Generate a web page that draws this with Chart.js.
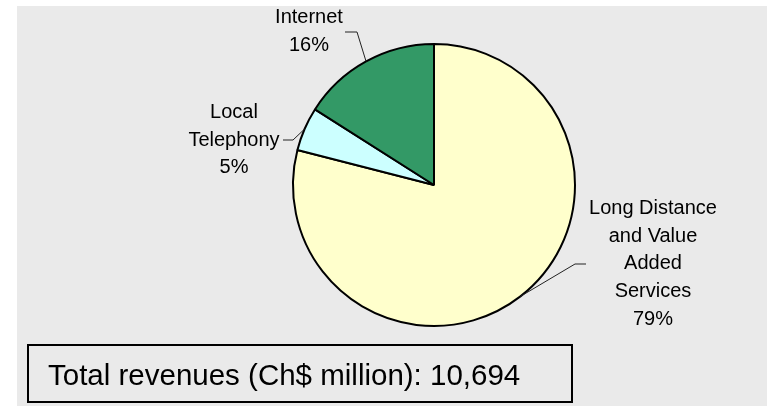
<!DOCTYPE html>
<html>
<head>
<meta charset="utf-8">
<script src="https://cdn.jsdelivr.net/npm/chart.js@4/dist/chart.umd.min.js"></script>
<style>
  html, body { margin: 0; padding: 0; background: #fff; }
  #graf { display: block; }
</style>
</head>
<body>
<canvas id="graf" width="767" height="406"></canvas>
<script>
// Revenue split by business line
const categories = ['Long Distance and Value Added Services', 'Local Telephony', 'Internet']
const shares = [79, 5, 16]
const labelLines = [
  ['Long Distance', 'and Value', 'Added', 'Services'],
  ['Local', 'Telephony'],
  ['Internet']
]
const totalRevenue = 10694
const totalCaption = 'Total revenues (Ch$ million): '

const sliceColors = ['#FFFFCC', '#CCFFFF', '#339966']
const fontFamily = '"Liberation Sans", Arial, sans-serif'

// where each label sits and how its leader line bends
const labelLayout = [
  { x: 653, y: 214, elbow: [575, 264], end: 586 },
  { x: 234, y: 118, elbow: [293, 140], end: 283 },
  { x: 309, y: 23, elbow: [357, 32], end: 345 }
]

const background = {
  id: 'background',
  beforeDraw(chart) {
    const c = chart.ctx
    c.save()
    c.fillStyle = '#eaeaea'
    c.fillRect(17, 6, chart.width - 17, chart.height - 6)
    c.restore()
  }
}

const sliceLabels = {
  id: 'sliceLabels',
  afterDraw(chart) {
    const c = chart.ctx
    const arcs = chart.getDatasetMeta(0).data
    c.save()
    arcs.forEach((arc, i) => {
      const p = arc.getProps(['x', 'y', 'startAngle', 'endAngle', 'outerRadius'], true)
      const mid = (p.startAngle + p.endAngle) / 2
      const ax = p.x + Math.cos(mid) * p.outerRadius
      const ay = p.y + Math.sin(mid) * p.outerRadius
      const lay = labelLayout[i]

      // leader line
      c.strokeStyle = '#222'
      c.lineWidth = 1
      c.beginPath()
      c.moveTo(ax, ay)
      c.lineTo(lay.elbow[0], lay.elbow[1])
      c.lineTo(lay.end, lay.elbow[1])
      c.stroke()

      // label text + percentage
      const lines = labelLines[i].concat([shares[i] + '%'])
      c.fillStyle = '#000'
      c.font = '20px ' + fontFamily
      c.textAlign = 'center'
      c.textBaseline = 'alphabetic'
      lines.forEach((t, k) => c.fillText(t, lay.x, lay.y + k * 27.7))
    })

    // total revenue box
    c.strokeStyle = '#000'
    c.lineWidth = 2
    c.strokeRect(28, 345, 544, 57)
    c.font = '29.5px ' + fontFamily
    c.textAlign = 'left'
    c.fillStyle = '#000'
    c.fillText(totalCaption + totalRevenue.toLocaleString('en-US'), 48, 385)
    c.restore()
  }
}

const data = {
  labels: categories,
  datasets: [{
    data: shares,
    backgroundColor: sliceColors,
    borderColor: '#000',
    borderWidth: 2
  }]
}

const config = {
  type: 'pie',
  data: data,
  options: {
    responsive: false,
    animation: false,
    radius: 141,
    layout: {
      padding: { left: 293, right: 192, top: 44, bottom: 80 }
    },
    plugins: {
      legend: { display: false },
      tooltip: { enabled: false }
    }
  },
  plugins: [background, sliceLabels]
}

const grafic = new Chart(document.getElementById('graf').getContext('2d'), config)
</script>
</body>
</html>
